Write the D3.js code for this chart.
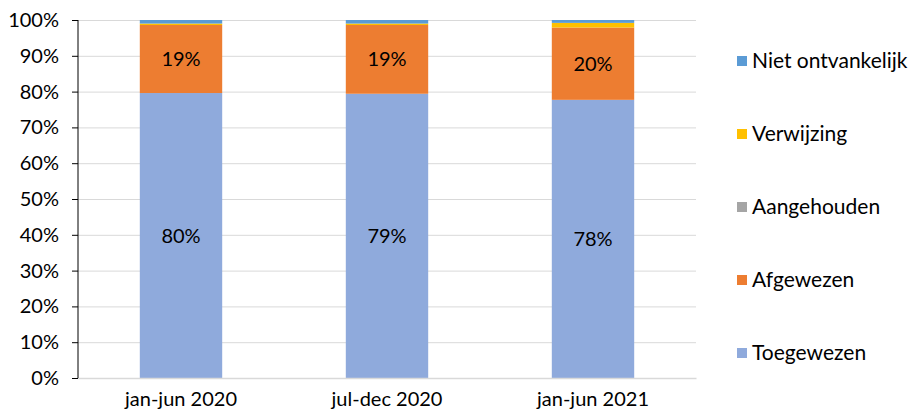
<!DOCTYPE html>
<html>
<head>
<meta charset="utf-8">
<script src="https://cdn.jsdelivr.net/npm/d3@7"></script>
<style>
  body { margin: 0; background: #fff; }
  text { font-family: Lato, "Open Sans", sans-serif; fill: #000; }
</style>
</head>
<body>
<svg width="912" height="412"></svg>
<script>
  const periods = ["jan-jun 2020", "jul-dec 2020", "jan-jun 2021"];
  const seriesNames = ["Toegewezen", "Afgewezen", "Aangehouden", "Verwijzing", "Niet ontvankelijk"];
  const toegewezen = [79.6, 79.4, 77.7];
  const afgewezen = [19.0, 19.2, 20.2];
  const aangehouden = [0, 0, 0];
  const verwijzing = [0.4, 0.4, 1.3];
  const nietOntvankelijk = [1.0, 1.0, 0.8];
  const yTicks = [0, 10, 20, 30, 40, 50, 60, 70, 80, 90, 100];
  const colors = ["#8faadc", "#ed7d31", "#a5a5a5", "#ffc000", "#5b9bd5"];

  const svg = d3.select("svg");
  const margin = { top: 20, right: 216, bottom: 34, left: 78 };
  const innerWidth = 912 - margin.left - margin.right;
  const innerHeight = 412 - margin.top - margin.bottom;

  const rows = periods.map((p, i) => ({
    period: p,
    Toegewezen: toegewezen[i],
    Afgewezen: afgewezen[i],
    Aangehouden: aangehouden[i],
    Verwijzing: verwijzing[i],
    "Niet ontvankelijk": nietOntvankelijk[i],
  }));
  const stacked = d3.stack().keys(seriesNames)(rows);

  const xScale = d3.scaleBand().domain(periods).range([0, innerWidth]).paddingInner(0.6).paddingOuter(0.3);
  const yScale = d3.scaleLinear().domain([0, 100]).range([innerHeight, 0]);
  const color = d3.scaleOrdinal().domain(seriesNames).range(colors);

  const g = svg.append("g").attr("transform", `translate(${margin.left}, ${margin.top})`);

  // gridlines
  g.append("g")
    .call(d3.axisLeft(yScale).tickValues(yTicks).tickSize(-innerWidth).tickFormat(""))
    .call((a) => a.selectAll(".domain").remove())
    .call((a) => a.selectAll("line").attr("stroke", "#d9d9d9"));

  // bars
  g.selectAll("g.series")
    .data(stacked)
    .enter()
    .append("g")
    .attr("class", "series")
    .attr("fill", (d) => color(d.key))
    .selectAll("rect")
    .data((d) => d)
    .enter()
    .append("rect")
    .attr("x", (d) => xScale(d.data.period))
    .attr("y", (d) => yScale(d[1]))
    .attr("width", xScale.bandwidth())
    .attr("height", (d) => yScale(d[0]) - yScale(d[1]));

  // data labels
  stacked.filter((s) => s.key === "Toegewezen" || s.key === "Afgewezen").forEach((s) => {
    g.selectAll(null)
      .data(s)
      .enter()
      .append("text")
      .attr("x", (d) => xScale(d.data.period) + xScale.bandwidth() / 2)
      .attr("y", (d) => yScale((d[0] + d[1]) / 2))
      .attr("dy", "0.35em")
      .attr("text-anchor", "middle")
      .style("font-size", "20px")
      .text((d) => Math.round(d[1] - d[0]) + "%");
  });

  // x axis
  const xAxisG = g.append("g")
    .attr("transform", `translate(0, ${innerHeight})`)
    .call(d3.axisBottom(xScale).tickSize(0).tickPadding(14));
  xAxisG.select(".domain").attr("stroke", "#d9d9d9").attr("stroke-width", 1.5);
  xAxisG.selectAll("text").style("font-size", "20px").attr("dy", "0.71em");

  // y axis
  const yAxisG = g.append("g")
    .call(d3.axisLeft(yScale).tickValues(yTicks).tickSize(6).tickPadding(13).tickFormat((d) => d + "%"));
  yAxisG.select(".domain").attr("stroke", "#000").attr("d", `M0,0V${innerHeight}`);
  yAxisG.selectAll("line").attr("stroke", "#000");
  yAxisG.selectAll("text").style("font-size", "20px");

  // legend
  const legendItems = seriesNames.slice().reverse();
  const legend = svg.append("g").attr("transform", "translate(737, 61)");
  const item = legend.selectAll("g")
    .data(legendItems)
    .enter()
    .append("g")
    .attr("transform", (d, i) => `translate(0, ${i * 73})`);
  item.append("rect")
    .attr("x", 0)
    .attr("y", -5)
    .attr("width", 10)
    .attr("height", 10)
    .attr("fill", (d) => color(d));
  item.append("text")
    .attr("x", 15)
    .attr("dy", "0.35em")
    .style("font-size", "21px")
    .text((d) => d);
</script>
</body>
</html>
